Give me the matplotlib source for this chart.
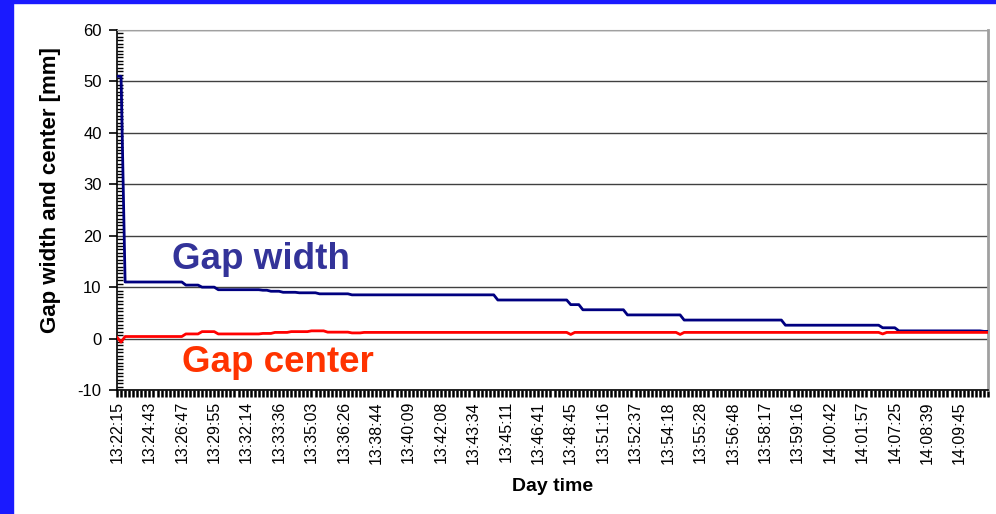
import numpy as np
import matplotlib
matplotlib.use("Agg")
import matplotlib.pyplot as plt
from matplotlib.patches import Rectangle
from matplotlib.ticker import MultipleLocator

plt.rcParams['font.family'] = ['Liberation Sans', 'DejaVu Sans']
plt.rcParams['axes.unicode_minus'] = False

# step data: level values and how many samples each lasts
width_levels = [51, 11, 10.4, 10.0, 9.5, 9.4, 9.2, 9.0, 8.9, 8.7, 8.5, 7.5, 6.6, 5.6, 4.6, 3.6, 2.6, 2.1, 1.5, 1.4]
width_runs = [2, 15, 4, 4, 11, 2, 3, 4, 5, 8, 36, 18, 3, 11, 14, 25, 24, 4, 21, 2]

center_levels = [0.25, -0.7, 0.4, 0.9, 1.35, 0.9, 1.0, 1.2, 1.35, 1.5, 1.25, 1.1, 1.2, 0.8, 1.2, 0.8, 1.2, 0.9, 1.2]
center_runs = [1, 1, 15, 4, 4, 11, 3, 4, 5, 4, 6, 3, 51, 1, 26, 1, 49, 1, 26]

time_labels = ['13:22:15', '13:24:43', '13:26:47', '13:29:55', '13:32:14', '13:33:36',
               '13:35:03', '13:36:26', '13:38:44', '13:40:09', '13:42:08', '13:43:34',
               '13:45:11', '13:46:41', '13:48:45', '13:51:16', '13:52:37', '13:54:18',
               '13:55:28', '13:56:48', '13:58:17', '13:59:16', '14:00:42', '14:01:57',
               '14:07:25', '14:08:39', '14:09:45']
label_every = 8

gap_width = np.repeat(width_levels, width_runs)
gap_center = np.repeat(center_levels, center_runs)
n = len(gap_width)
x = np.arange(n)

fig = plt.figure(figsize=(9.96, 5.14), dpi=100)
fig.patch.set_facecolor('white')

# blue frame strips of the slide
fig.patches.append(Rectangle((0, 0), 13 / 996, 1, transform=fig.transFigure,
                             color='#1a1aff', zorder=0))
fig.patches.append(Rectangle((0, 1 - 3 / 514), 1, 3 / 514, transform=fig.transFigure,
                             color='#1a1aff', zorder=0))

ax = fig.add_axes([117 / 996, 1 - 390 / 514, 871 / 996, 360 / 514])

ax.plot(x, gap_width, color='#000080', lw=2.0, zorder=3)
ax.plot(x, gap_center, color='#ff0000', lw=2.0, zorder=3)

ax.set_xlim(0, n - 1)
ax.set_ylim(-10, 60)
ax.set_yticks(np.arange(-10, 61, 10))
ax.yaxis.set_minor_locator(MultipleLocator(10 / 15))
ax.grid(axis='y', color='#404040', lw=1.0)
ax.set_axisbelow(True)

ax.tick_params(axis='y', which='major', direction='out', length=6, width=1.2,
               labelsize=12, pad=5)
ax.tick_params(axis='y', which='minor', direction='in', length=4, width=1.0)

tick_text = [''] * n
for i, lab in enumerate(time_labels):
    tick_text[i * label_every] = lab
ax.set_xticks(x)
ax.set_xticklabels(tick_text, rotation=90, fontsize=11.5)
ax.tick_params(axis='x', direction='out', length=5, width=1.8, pad=3)

for s in ['top', 'right']:
    ax.spines[s].set_color('#a0a0a0')
ax.spines['right'].set_linewidth(2)
ax.spines['left'].set_linewidth(1.2)
ax.spines['bottom'].set_linewidth(1.2)

ax.set_ylabel('Gap width and center [mm]', fontsize=16, fontweight='bold')
ax.yaxis.set_label_coords(-0.064, 0.555)
ax.set_xlabel('Day time', fontsize=14, fontweight='bold', labelpad=10)

ax.text(13.5, 15.3, 'Gap width', color='#333399', fontsize=26.5, fontweight='bold',
        va='center', ha='left')
ax.text(16, -4.6, 'Gap center', color='#ff3300', fontsize=26.5, fontweight='bold',
        va='center', ha='left')

fig.savefig('out.png', dpi=100)
